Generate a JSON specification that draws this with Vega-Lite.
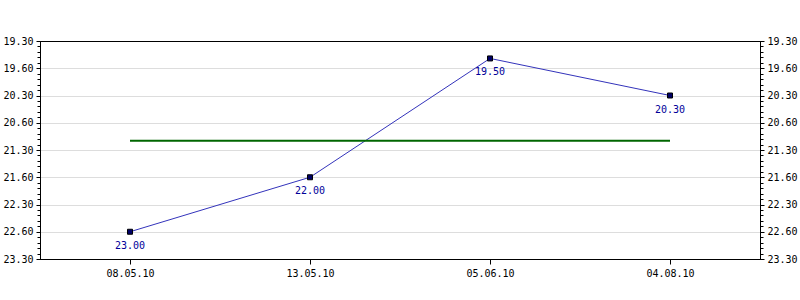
{
  "$schema": "https://vega.github.io/schema/vega-lite/v6.json",
  "width": 720,
  "height": 218,
  "autosize": {"type": "none"},
  "padding": {"left": 40, "top": 41, "right": 40, "bottom": 41},
  "background": "white",
  "config": {
    "view": {"stroke": "black", "strokeWidth": 1},
    "axis": {"labelFont": "DejaVu Sans Mono", "labelFontSize": 10, "labelColor": "black", "tickColor": "black", "domainColor": "black"}
  },
  "datasets": {
    "pts": [
      {"date": "08.05.10", "value": 22.8, "label": "23.00"},
      {"date": "13.05.10", "value": 21.8, "label": "22.00"},
      {"date": "05.06.10", "value": 19.62, "label": "19.50"},
      {"date": "04.08.10", "value": 20.3, "label": "20.30"}
    ],
    "avg": [{"start": "08.05.10", "end": "04.08.10", "level": 21.13}]
  },
  "resolve": {"axis": {"x": "independent", "y": "independent"}},
  "layer": [
    {
      "data": {"name": "pts"},
      "mark": {"type": "line", "color": "#3333bb", "strokeWidth": 1},
      "encoding": {
        "x": {"field": "date", "type": "ordinal", "sort": null,
              "scale": {"type": "point", "padding": 0.5},
              "axis": {"title": null, "labelAngle": 0, "tickSize": 5, "labelPadding": 4, "grid": false, "zindex": 1}},
        "y": {"field": "value", "type": "quantitative",
              "scale": {"domain": [23.3, 19.3], "nice": false, "zero": false},
              "axis": {"orient": "left", "title": null, "values": [19.3, 19.8, 20.3, 20.8, 21.3, 21.8, 22.3, 22.8, 23.3],
                       "labelExpr": "floor(datum.value + 0.001) + (datum.value - floor(datum.value + 0.001) < 0.5 ? '.30' : '.60')",
                       "grid": true, "gridColor": "#dddddd", "tickSize": 4, "labelPadding": 3, "zindex": 0}}
      }
    },
    {
      "data": {"name": "avg"},
      "mark": {"type": "rule", "color": "#006600", "strokeWidth": 2},
      "encoding": {
        "x": {"field": "start", "type": "ordinal", "sort": null,
              "axis": {"orient": "top", "title": null, "labels": false, "ticks": false, "grid": false, "domain": true, "zindex": 1}},
        "x2": {"field": "end"},
        "y": {"field": "level", "type": "quantitative",
              "axis": {"orient": "right", "title": null, "values": [19.3, 19.8, 20.3, 20.8, 21.3, 21.8, 22.3, 22.8, 23.3],
                       "labelExpr": "floor(datum.value + 0.001) + (datum.value - floor(datum.value + 0.001) < 0.5 ? '.30' : '.60')",
                       "grid": false, "tickSize": 4, "labelPadding": 3, "zindex": 1}}
      }
    },
    {
      "data": {"name": "pts"},
      "mark": {"type": "point", "shape": "square", "filled": true, "size": 25, "color": "#000066", "stroke": "black", "strokeWidth": 1, "opacity": 1},
      "encoding": {
        "x": {"field": "date", "type": "ordinal", "sort": null, "axis": null},
        "y": {"field": "value", "type": "quantitative",
              "axis": {"orient": "left", "title": null, "labels": false, "grid": false, "domain": true, "tickSize": 3, "zindex": 1,
                       "values": [19.3,19.4,19.5,19.6,19.7,19.8,19.9,20.0,20.1,20.2,20.3,20.4,20.5,20.6,20.7,20.8,20.9,21.0,21.1,21.2,21.3,21.4,21.5,21.6,21.7,21.8,21.9,22.0,22.1,22.2,22.3,22.4,22.5,22.6,22.7,22.8,22.9,23.0,23.1,23.2,23.3]}}
      }
    },
    {
      "data": {"name": "pts"},
      "mark": {"type": "text", "font": "DejaVu Sans Mono", "fontSize": 10, "color": "#000099", "dy": 14, "baseline": "middle", "align": "center"},
      "encoding": {
        "x": {"field": "date", "type": "ordinal", "sort": null, "axis": null},
        "y": {"field": "value", "type": "quantitative",
              "axis": {"orient": "right", "title": null, "labels": false, "grid": false, "domain": true, "tickSize": 3, "zindex": 1,
                       "values": [19.3,19.4,19.5,19.6,19.7,19.8,19.9,20.0,20.1,20.2,20.3,20.4,20.5,20.6,20.7,20.8,20.9,21.0,21.1,21.2,21.3,21.4,21.5,21.6,21.7,21.8,21.9,22.0,22.1,22.2,22.3,22.4,22.5,22.6,22.7,22.8,22.9,23.0,23.1,23.2,23.3]}},
        "text": {"field": "label"}
      }
    }
  ]
}
